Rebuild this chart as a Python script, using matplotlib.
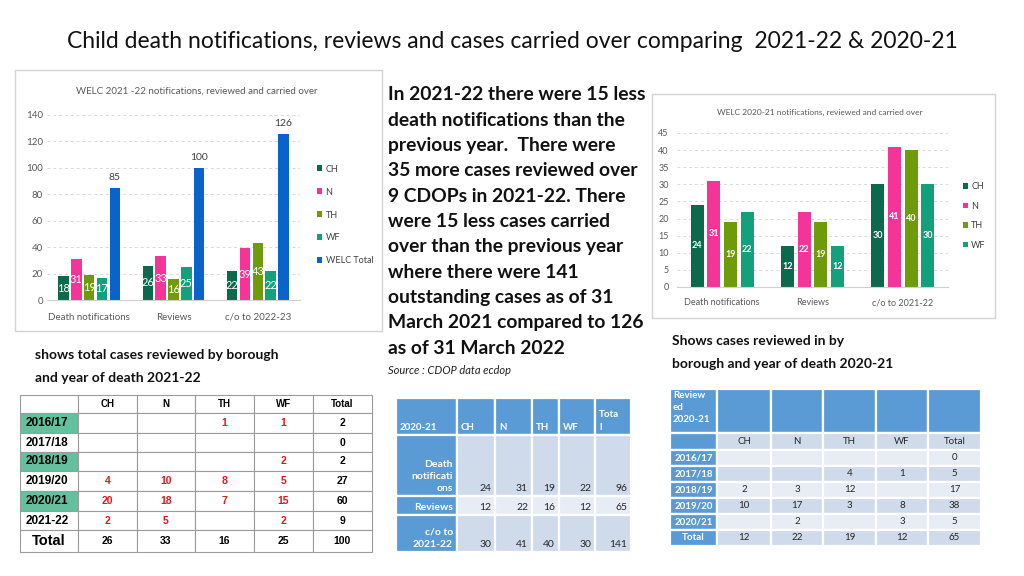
import matplotlib
matplotlib.use("Agg")
import matplotlib.pyplot as plt
from matplotlib.patches import Rectangle
import numpy as np

# ---- data ----
boroughs = ["CH", "N", "TH", "WF"]
cats_2122 = ["Death notifications", "Reviews", "c/o to 2022-23"]
ch_2122 = [18, 26, 22]
n_2122 = [31, 33, 39]
th_2122 = [19, 16, 43]
wf_2122 = [17, 25, 22]
total_2122 = [85, 100, 126]

cats_2021 = ["Death notifications", "Reviews", "c/o to 2021-22"]
ch_2021 = [24, 12, 30]
n_2021 = [31, 22, 41]
th_2021 = [19, 19, 40]
wf_2021 = [22, 12, 30]

col_ch, col_n, col_th, col_wf, col_tot = "#0b6a4c", "#f5349a", "#6d9b0a", "#13a07c", "#0a63c9"

# left table: reviewed by borough and year of death 2021-22
lt_cols = ["CH", "N", "TH", "WF", "Total"]
lt_years = ["2016/17", "2017/18", "2018/19", "2019/20", "2020/21", "2021-22", "Total"]
lt_vals = [[None, None, 1, 1, 2],
           [None, None, None, None, 0],
           [None, None, None, 2, 2],
           [4, 10, 8, 5, 27],
           [20, 18, 7, 15, 60],
           [2, 5, None, 2, 9],
           [26, 33, 16, 25, 100]]

# middle table 2020-21
mt_head = ["2020-21", "CH", "N", "TH", "WF", "Tota\nl"]
mt_rows = ["Death\nnotificati\nons", "Reviews", "c/o to\n2021-22"]
mt_vals = [[24, 31, 19, 22, 96],
           [12, 22, 16, 12, 65],
           [30, 41, 40, 30, 141]]

# right table reviewed 2020-21
rt_cols = ["CH", "N", "TH", "WF", "Total"]
rt_years = ["2016/17", "2017/18", "2018/19", "2019/20", "2020/21", "Total"]
rt_vals = [[None, None, None, None, 0],
           [None, None, 4, 1, 5],
           [2, 3, 12, None, 17],
           [10, 17, 3, 8, 38],
           [None, 2, None, 3, 5],
           [12, 22, 19, 12, 65]]

W, H = 1024, 576
fig = plt.figure(figsize=(10.24, 5.76), dpi=100)
fig.patch.set_facecolor("white")
FONT = "Lato"
TAB = "Liberation Sans"


def px(x0, y0, x1, y1):
    return [x0 / W, 1 - y1 / H, (x1 - x0) / W, (y1 - y0) / H]


ov = fig.add_axes([0, 0, 1, 1])
ov.set_xlim(0, W)
ov.set_ylim(H, 0)
ov.axis("off")

# frames of the pasted charts
ov.add_patch(Rectangle((15, 70), 367, 261, fill=False, ec="#d4d4d4", lw=1))
ov.add_patch(Rectangle((652, 94), 343, 224, fill=False, ec="#d4d4d4", lw=1))

fig.text(512 / W, 1 - 42 / H,
         "Child death notifications, reviews and cases carried over comparing  2021-22 & 2020-21",
         ha="center", va="center", fontsize=16.5, family=FONT, color="#111111")


def style_chart(ax, ymax, step):
    ax.set_facecolor("none")
    ax.set_ylim(0, ymax)
    ax.set_xlim(-0.5, 2.5)
    ax.set_yticks(np.arange(0, ymax + 1, step))
    ax.grid(axis="y", color="#d9d9d9", ls=(0, (3, 3)), lw=0.7)
    ax.set_axisbelow(True)
    for s in ["top", "right", "left"]:
        ax.spines[s].set_visible(False)
    ax.spines["bottom"].set_color("#d0d0d0")
    ax.tick_params(length=0, labelsize=7, labelcolor="#595959", pad=3)
    for t in ax.get_xticklabels() + ax.get_yticklabels():
        t.set_family(FONT)


# ---- left chart 2021-22 ----
ax1 = fig.add_axes(px(47, 115, 300, 300))
x = np.arange(3)
series1 = [(ch_2122, col_ch, "CH"), (n_2122, col_n, "N"), (th_2122, col_th, "TH"),
           (wf_2122, col_wf, "WF"), (total_2122, col_tot, "WELC Total")]
for i, (vals, c, lab) in enumerate(series1):
    b = ax1.bar(x + (i - 2) * 0.152, vals, 0.125, color=c, label=lab)
    if lab == "WELC Total":
        ax1.bar_label(b, padding=4, fontsize=7.5, color="#404040", family=FONT)
    else:
        ax1.bar_label(b, label_type="center", fontsize=8, color="white", family=FONT)
ax1.set_xticks(x, cats_2122)
style_chart(ax1, 140, 20)
ax1.tick_params(axis="x", pad=9)
ax1.legend(loc="center left", bbox_to_anchor=(317 / W, 1 - 215 / H), bbox_transform=fig.transFigure,
           frameon=False, borderaxespad=0, borderpad=0, handlelength=0.6, handleheight=0.6,
           handletextpad=0.35, labelspacing=1.55, prop={"family": FONT, "size": 6.5},
           labelcolor="#404040")
fig.text(197 / W, 1 - 91 / H, "WELC 2021 -22 notifications, reviewed and carried over",
         ha="center", va="center", fontsize=7, family=FONT, color="#595959")

# ---- right chart 2020-21 ----
ax2 = fig.add_axes(px(677, 133, 948, 287))
series2 = [(ch_2021, col_ch, "CH"), (n_2021, col_n, "N"), (th_2021, col_th, "TH"), (wf_2021, col_wf, "WF")]
for i, (vals, c, lab) in enumerate(series2):
    b = ax2.bar(x + (i - 1.5) * 0.185, vals, 0.145, color=c, label=lab)
    ax2.bar_label(b, label_type="center", fontsize=6.5, color="white", family=FONT, weight="bold")
ax2.set_xticks(x, cats_2021)
style_chart(ax2, 45, 5)
ax2.tick_params(axis="y", pad=6, labelsize=6.5)
ax2.tick_params(axis="x", pad=8, labelsize=6.5)
ax2.legend(loc="center left", bbox_to_anchor=(963 / W, 1 - 216 / H), bbox_transform=fig.transFigure,
           frameon=False, borderaxespad=0, borderpad=0, handlelength=0.6, handleheight=0.6,
           handletextpad=0.3, labelspacing=1.15, prop={"family": FONT, "size": 6.5},
           labelcolor="#404040")
fig.text(820 / W, 1 - 112 / H, "WELC 2020-21 notifications, reviewed and carried over",
         ha="center", va="center", fontsize=6, family=FONT, color="#595959")

# ---- paragraph ----
para = ["In 2021-22 there were 15 less", "death notifications than the",
        "previous year.  There were", "35 more cases reviewed over",
        "9 CDOPs in 2021-22. There", "were 15 less cases carried",
        "over than the previous year", "where there were 141",
        "outstanding cases as of 31", "March 2021 compared to 126",
        "as of 31 March 2022"]
for k, line in enumerate(para):
    fig.text(388 / W, 1 - (95 + k * 25.3) / H, line, ha="left", va="center",
             fontsize=13.9, weight="bold", family=FONT, color="#111111")
fig.text(388 / W, 1 - 371 / H, "Source : CDOP data ecdop", ha="left", va="center",
         fontsize=8, style="italic", family=FONT, color="#222222")

fig.text(35 / W, 1 - 355 / H, "shows total cases reviewed by borough", ha="left", va="center",
         fontsize=10, weight="bold", family=FONT, color="#111111")
fig.text(35 / W, 1 - 378 / H, "and year of death 2021-22", ha="left", va="center",
         fontsize=10, weight="bold", family=FONT, color="#111111")
fig.text(672 / W, 1 - 341 / H, "Shows cases reviewed in by", ha="left", va="center",
         fontsize=10, weight="bold", family=FONT, color="#111111")
fig.text(672 / W, 1 - 364 / H, "borough and year of death 2020-21", ha="left", va="center",
         fontsize=10, weight="bold", family=FONT, color="#111111")

# ---- left table ----
lx = [20, 78, 137, 195, 254, 313, 372]
ly = [395, 413, 433, 452, 471, 491, 511, 530, 552]
green = "#63c19f"
for r in range(len(ly) - 1):
    for c in range(len(lx) - 1):
        fc = "white"
        if c == 0 and r in (1, 3, 5):
            fc = green
        ov.add_patch(Rectangle((lx[c], ly[r]), lx[c + 1] - lx[c], ly[r + 1] - ly[r],
                               fc=fc, ec="#9c9c9c", lw=0.8))
for c, name in enumerate(lt_cols):
    ov.text((lx[c + 1] + lx[c + 2]) / 2, (ly[0] + ly[1]) / 2, name, ha="center", va="center",
            fontsize=7, weight="bold", family=TAB)
for r, yr in enumerate(lt_years):
    cy = (ly[r + 1] + ly[r + 2]) / 2
    last = yr == "Total"
    ov.text(lx[0] + 6 if not last else (lx[0] + lx[1]) / 2, cy, yr,
            ha="left" if not last else "center", va="center",
            fontsize=10.5 if last else 8.5, weight="bold", family=TAB)
    for c, v in enumerate(lt_vals[r]):
        if v is None:
            continue
        red = (not last) and c < 4
        ov.text((lx[c + 1] + lx[c + 2]) / 2, cy, str(v), ha="center", va="center",
                fontsize=7.5, weight="bold", family=TAB, color="#e8141b" if red else "black")

# ---- middle table ----
blue = "#5b9bd5"
dark = "#cfdaea"
light = "#e8edf5"
mx = [396, 457, 495, 532, 559, 595, 631]
my = [398, 435, 496, 515, 552]
for r in range(4):
    for c in range(6):
        if r == 0 or c == 0:
            fc = blue
        else:
            fc = light if r == 2 else dark
        ov.add_patch(Rectangle((mx[c], my[r]), mx[c + 1] - mx[c], my[r + 1] - my[r],
                               fc=fc, ec="white", lw=1.6))
for c, name in enumerate(mt_head):
    ov.text(mx[c] + 4, my[1] - 3, name, ha="left", va="bottom", fontsize=7,
            weight="bold", family=FONT, color="white", linespacing=1.6)
for r, name in enumerate(mt_rows):
    ov.text(mx[1] - 4, my[r + 2] - 3, name, ha="right", va="bottom", fontsize=7.5,
            weight="bold", family=FONT, color="white", linespacing=1.45, multialignment="right")
    for c, v in enumerate(mt_vals[r]):
        ov.text(mx[c + 2] - 4, my[r + 2] - 3, str(v), ha="right", va="bottom",
                fontsize=7.5, family=FONT, color="#262626")

# ---- right table ----
rx = [670, 717, 771, 823, 876, 928, 981]
ry = [389, 433, 450, 466, 482, 498, 514, 530, 546]
for r in range(len(ry) - 1):
    for c in range(6):
        if r == 0 or c == 0:
            fc = blue
        elif r == 1:
            fc = dark
        else:
            fc = light if r % 2 == 0 else dark
        ov.add_patch(Rectangle((rx[c], ry[r]), rx[c + 1] - rx[c], ry[r + 1] - ry[r],
                               fc=fc, ec="white", lw=1.6))
ov.text(rx[0] + 3, ry[0] + 2, "Review\ned\n2020-21", ha="left", va="top", fontsize=7,
        weight="bold", family=FONT, color="white", linespacing=1.45)
for c, name in enumerate(rt_cols):
    ov.text((rx[c + 1] + rx[c + 2]) / 2, (ry[1] + ry[2]) / 2, name, ha="center", va="center",
            fontsize=7, family=FONT, color="#262626")
for r, yr in enumerate(rt_years):
    cy = (ry[r + 2] + ry[r + 3]) / 2
    ov.text((rx[0] + rx[1]) / 2, cy, yr, ha="center", va="center", fontsize=7,
            weight="bold", family=FONT, color="white")
    for c, v in enumerate(rt_vals[r]):
        if v is None:
            continue
        ov.text((rx[c + 1] + rx[c + 2]) / 2, cy, str(v), ha="center", va="center",
                fontsize=7, family=FONT, color="#262626")

fig.savefig("out.png", dpi=100)
